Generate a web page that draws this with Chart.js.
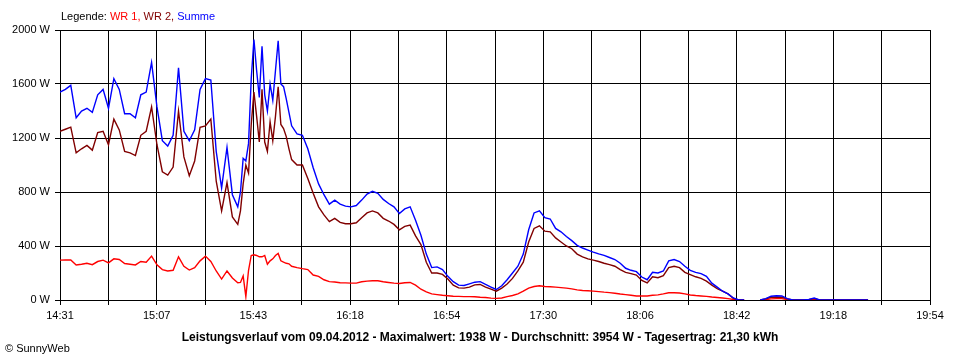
<!DOCTYPE html>
<html>
<head>
<meta charset="utf-8">
<script src="https://cdn.jsdelivr.net/npm/chart.js@4/dist/chart.umd.min.js"></script>
<style>
  html, body { margin: 0; padding: 0; background: #fff; }
  #wrap { position: relative; width: 960px; height: 360px; background: #fff; font-family: "Liberation Sans", Arial, sans-serif; }
  #c { position: absolute; left: 0; top: 0; }
  .txt { position: absolute; white-space: nowrap; font-size: 11px; line-height: 13px; color: #000; }
  #legend { left: 61px; top: 10px; }
  #title { left: 0; width: 960px; text-align: center; top: 330px; font-weight: bold; font-size: 12px; line-height: 14px; }
  #copy { left: 5px; top: 342px; }
</style>
</head>
<body>
<div id="wrap">
  <canvas id="c" width="960" height="360"></canvas>
  <div id="legend" class="txt">Legende: <span style="color:#ff0000">WR 1,</span> <span style="color:#800000">WR 2,</span> <span style="color:#0000ff">Summe</span></div>
  <div id="title" class="txt">Leistungsverlauf vom 09.04.2012 - Maximalwert: 1938 W - Durchschnitt: 3954 W - Tagesertrag: 21,30 kWh</div>
  <div id="copy" class="txt">© SunnyWeb</div>
</div>
<script>
// ---- data ----
const startTime = '14:31';
const endTime = '19:54';
const tickLabels = ['14:31','15:07','15:43','16:18','16:54','17:30','18:06','18:42','19:18','19:54'];
const yTicks = [0, 400, 800, 1200, 1600, 2000];

const times = [
 '14:31','14:33','14:35','14:37','14:39','14:41','14:43','14:45','14:47','14:49','14:51','14:53','14:55','14:57','14:59',
 '15:01','15:03','15:05','15:07','15:09','15:11','15:13','15:15','15:17','15:19','15:21','15:23','15:25','15:27','15:29',
 '15:31','15:33','15:35',
 '15:37','15:38','15:39','15:40','15:41','15:42','15:43','15:44','15:45','15:46','15:47','15:48','15:49','15:50','15:51',
 '15:52','15:53','15:54','15:55','15:56','15:57',
 '15:59','16:01','16:03','16:05','16:07','16:09','16:11','16:13','16:15','16:17','16:19','16:21','16:23','16:25','16:27',
 '16:29','16:31','16:33','16:35','16:37','16:39','16:41','16:43','16:45','16:47','16:49','16:51','16:53','16:55','16:57',
 '16:59','17:01','17:03','17:05','17:07','17:09','17:11','17:13','17:15','17:17','17:19','17:21','17:23','17:25','17:27',
 '17:29','17:31','17:33','17:35','17:37','17:39','17:41','17:43','17:45','17:47','17:49','17:51','17:53','17:55','17:57',
 '17:59','18:01','18:03','18:05','18:07','18:09','18:11','18:13','18:15','18:17','18:19','18:21','18:23','18:25','18:27',
 '18:29','18:31','18:33','18:35','18:37','18:39','18:41','18:43','18:45','18:47','18:49','18:51','18:53','18:55','18:57',
 '18:59','19:01','19:03','19:05','19:07','19:09','19:11','19:13','19:15','19:17','19:19','19:21','19:23','19:25','19:27',
 '19:29','19:31'
];

const summe = [
 1540,1560,1590,1350,1400,1420,1390,1520,1560,1420,1640,1560,1380,1380,1350,
 1520,1540,1760,1430,1180,1140,1220,1720,1250,1180,1260,1560,1640,1630,1100,
 830,1130,780,
 690,800,1050,1030,1160,1640,1930,1700,1500,1880,1520,1400,1600,1480,1700,
 1920,1600,1580,1490,1390,1290,
 1230,1220,1120,980,860,780,710,740,710,695,690,700,740,785,805,
 790,745,715,690,640,675,690,590,480,340,240,245,225,175,136,
 110,108,120,132,136,115,96,78,105,150,200,250,340,520,645,
 660,610,600,530,505,470,440,405,385,370,355,342,330,315,300,
 272,235,220,210,170,150,205,200,215,290,300,285,250,220,205,
 195,175,125,95,65,45,15,0,0,null,null,0,10,28,32,
 30,10,0,0,0,5,15,0,0,0,0,0,0,0,0,
 0,0
];

const wr2 = [
 1250,1265,1280,1090,1120,1145,1110,1240,1250,1150,1340,1260,1100,1090,1070,
 1220,1250,1430,1150,950,925,985,1400,1060,920,1030,1280,1290,1340,880,
 660,870,615,
 560,660,860,1000,940,1300,1540,1360,1170,1560,1170,1100,1320,1180,1360,
 1580,1300,1270,1210,1120,1040,
 1000,1000,900,790,690,630,580,605,575,565,565,572,610,645,660,
 645,605,585,560,520,545,555,475,410,280,200,200,190,155,110,
 90,88,95,112,115,95,80,65,88,118,160,215,280,430,530,
 550,510,505,460,430,400,380,340,320,305,295,285,272,262,250,
 225,205,195,185,145,126,172,165,180,240,250,240,205,188,172,
 160,140,110,85,65,45,12,0,0,null,null,0,8,20,22,
 20,8,0,0,0,3,10,0,0,0,0,0,0,0,0,
 0,0
];

const wr1 = [
 295,296,296,259,265,272,262,285,295,275,305,300,270,265,260,
 285,280,325,260,225,215,220,320,250,222,240,290,325,285,215,
 155,215,163,
 128,130,178,25,220,330,335,330,320,320,330,265,290,305,330,
 345,290,280,272,268,250,
 240,232,225,185,175,150,136,133,128,127,125,125,135,140,143,
 143,135,130,125,122,128,130,110,80,60,45,40,35,32,28,
 27,25,25,24,20,18,14,12,15,25,33,45,65,88,100,
 106,100,98,95,92,88,82,75,70,69,66,62,58,55,50,
 44,40,35,30,30,30,35,38,45,54,54,52,45,37,33,
 30,27,22,19,15,10,4,0,0,null,null,0,3,8,10,
 10,3,0,0,0,2,5,0,0,0,0,0,0,0,0,
 0,0
];

// ---- helpers ----
function toMin(t) { const p = t.split(':'); return (+p[0]) * 60 + (+p[1]); }
const t0 = toMin(startTime);
const span = toMin(endTime) - t0;
const nGrid = (tickLabels.length - 1) * 2;   // a grid line between every two labels
function pts(vals) { return times.map((t, i) => ({ x: toMin(t) - t0, y: vals[i] })); }

const FONT = { family: '"Liberation Sans", Arial, sans-serif', size: 11 };

new Chart(document.getElementById('c'), {
  type: 'line',
  data: {
    datasets: [
      { label: 'Summe', data: pts(summe), borderColor: '#0000ff', order: 0 },
      { label: 'WR 2', data: pts(wr2), borderColor: '#800000', order: 1 },
      { label: 'WR 1', data: pts(wr1), borderColor: '#ff0000', order: 2 }
    ]
  },
  options: {
    responsive: false,
    devicePixelRatio: 1,
    animation: false,
    spanGaps: false,
    layout: { padding: { top: 30, right: 30, left: 0, bottom: 0 } },
    elements: {
      point: { radius: 0 },
      line: { borderWidth: 1.4, tension: 0, fill: false }
    },
    plugins: { legend: { display: false }, tooltip: { enabled: false } },
    scales: {
      x: {
        type: 'linear',
        min: 0,
        max: span,
        afterBuildTicks(scale) {
          const arr = [];
          for (let i = 0; i <= nGrid; i++) arr.push({ value: i * span / nGrid });
          scale.ticks = arr;
        },
        afterFit(scale) { scale.height = 60; },
        ticks: {
          autoSkip: false, maxRotation: 0, minRotation: 0, padding: 4,
          color: '#000', font: FONT,
          callback: (v, i) => (i % 2 === 0 ? tickLabels[i / 2] : '')
        },
        grid: { color: '#000', lineWidth: 1, drawTicks: true, tickLength: 5, tickColor: '#000' },
        border: { display: true, color: '#000', width: 1 }
      },
      y: {
        min: yTicks[0],
        max: yTicks[yTicks.length - 1],
        afterBuildTicks(scale) { scale.ticks = yTicks.map(v => ({ value: v })); },
        afterFit(scale) { scale.width = 60; },
        ticks: {
          padding: 5, color: '#000', font: FONT,
          callback: v => v + ' W'
        },
        grid: { color: '#000', lineWidth: 1, drawTicks: true, tickLength: 5, tickColor: '#000' },
        border: { display: true, color: '#000', width: 1 }
      }
    }
  }
});
</script>
</body>
</html>
